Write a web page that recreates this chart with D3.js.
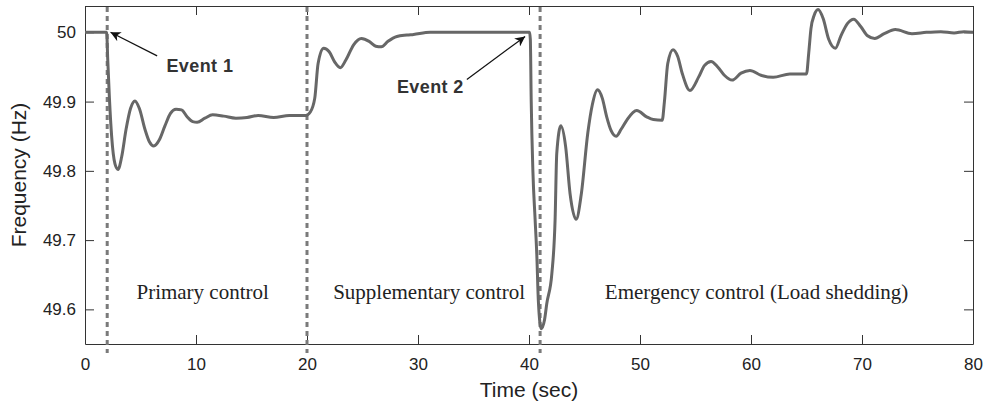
<!DOCTYPE html>
<html>
<head>
<meta charset="utf-8">
<script src="https://cdn.jsdelivr.net/npm/d3@7"></script>
<style>
  body { margin: 0; background: #fff; }
  .axis text { font-family: "Liberation Sans", Arial, sans-serif; font-size: 17px; fill: #222; }
  .axis path, .axis line { stroke: #333; }
  .event-label { font-family: "Liberation Sans", Arial, sans-serif; font-weight: bold; font-size: 18px; fill: #333; letter-spacing: 0.4px; }
  .region-label { font-family: "Liberation Serif", "Times New Roman", serif; font-size: 21px; fill: #222; }
  .axis-label { font-family: "Liberation Sans", Arial, sans-serif; font-size: 21px; fill: #222; }
</style>
</head>
<body>
<div id="chart"></div>
<script>
// frequency trace
const time = [0, 1.95, 2.05, 2.2, 2.4, 2.7, 2.98, 3.3, 3.7, 4.1, 4.5, 4.9, 5.4, 5.8, 6.2, 6.7, 7.2, 7.7, 8.2, 8.7,
  9.2, 9.7, 10.1, 10.8, 11.5, 12.5, 13.6, 14.6, 15.6, 17.0, 18.4, 19.9,
  20.3, 20.7, 21.0, 21.5, 22.0, 22.5, 23.0, 23.5, 24.2, 24.9, 25.6, 26.2, 26.7, 27.3, 28.1, 29.0, 29.6, 31.1, 40.05,
  40.12, 40.2, 40.35, 40.55, 40.7, 40.85, 41.1, 41.4, 41.6, 42.06, 42.35, 42.5, 42.87, 43.3, 43.7, 44.25, 44.7, 45.3,
  45.7, 46.17, 46.6, 47.0, 47.4, 47.85, 48.3, 48.8, 49.7, 50.6, 51.2, 52.0, 52.2, 52.5, 52.97, 53.4, 53.8, 54.5,
  55.3, 55.8, 56.4, 57.0, 57.6, 58.3, 59.1, 59.9, 60.9, 62.0, 63.5, 65.0, 65.2, 65.4, 65.7, 66.04, 66.5, 67.0, 67.6,
  68.1, 68.7, 69.25, 69.9, 70.5, 71.15, 72.0, 73.0, 74.5, 75.8, 77.1, 78.3, 79.2, 80];
const freq = [50.0, 50.0, 49.96, 49.905, 49.85, 49.81, 49.802, 49.82, 49.86, 49.89, 49.901, 49.89, 49.86, 49.842, 49.836, 49.845, 49.865, 49.883, 49.889, 49.888,
  49.878, 49.871, 49.870, 49.876, 49.881, 49.879, 49.876, 49.877, 49.880, 49.877, 49.880, 49.880,
  49.885, 49.905, 49.955, 49.977, 49.972, 49.957, 49.949, 49.960, 49.982, 49.991, 49.987, 49.980, 49.979, 49.987, 49.994, 49.996, 49.997, 50.0, 50.0,
  49.99, 49.90, 49.80, 49.73, 49.68, 49.61, 49.572, 49.585, 49.608, 49.652, 49.729, 49.825, 49.865, 49.835, 49.767, 49.730, 49.765, 49.855,
  49.895, 49.917, 49.905, 49.878, 49.858, 49.850, 49.860, 49.873, 49.887, 49.878, 49.874, 49.873, 49.90, 49.955, 49.975, 49.965, 49.941, 49.916,
  49.936, 49.952, 49.958, 49.950, 49.938, 49.931, 49.941, 49.945, 49.938, 49.935, 49.940, 49.940, 49.97, 50.005, 50.025, 50.033, 50.02, 49.99, 49.977,
  49.995, 50.013, 50.019, 50.008, 49.995, 49.991, 49.998, 50.004, 49.998, 50.0, 50.001, 49.999, 50.001, 50.0];

const eventTimes = [2, 20, 41];
const xTicks = [0, 10, 20, 30, 40, 50, 60, 70, 80];
const yTicks = [49.6, 49.7, 49.8, 49.9, 50];
const regionLabels = ["Primary control", "Supplementary control", "Emergency control (Load shedding)"];
const regionCenters = [10.6, 31.0, 60.5];

const W = 987, H = 406;
const margin = { top: 6, right: 14, bottom: 62, left: 85 };

const svg = d3.select("#chart").append("svg")
    .attr("width", W)
    .attr("height", H);

const x = d3.scaleLinear().domain([0, 80]).range([margin.left, W - margin.right]);
const y = d3.scaleLinear().domain([49.55, 50.038]).range([H - margin.bottom, margin.top]);

const fmt = d => String(+d.toFixed(1));

// axes, ticks pointing inward on all four sides
svg.append("g").attr("class", "axis")
    .attr("transform", `translate(0,${y.range()[0]})`)
    .call(d3.axisBottom(x).tickValues(xTicks).tickSizeInner(-9).tickSizeOuter(0).tickPadding(14).tickFormat(fmt));
svg.append("g").attr("class", "axis")
    .attr("transform", `translate(0,${y.range()[1]})`)
    .call(d3.axisTop(x).tickValues(xTicks).tickSizeInner(-9).tickSizeOuter(0).tickFormat(""));
svg.append("g").attr("class", "axis")
    .attr("transform", `translate(${x.range()[0]},0)`)
    .call(d3.axisLeft(y).tickValues(yTicks).tickSizeInner(-9).tickSizeOuter(0).tickPadding(9).tickFormat(fmt));
svg.append("g").attr("class", "axis")
    .attr("transform", `translate(${x.range()[1]},0)`)
    .call(d3.axisRight(y).tickValues(yTicks).tickSizeInner(-9).tickSizeOuter(0).tickFormat(""));

svg.selectAll(".axis .tick line").attr("stroke", "#333");

// event markers
svg.selectAll(".event-line")
    .data(eventTimes)
    .join("line")
    .attr("class", "event-line")
    .attr("x1", d => x(d)).attr("x2", d => x(d))
    .attr("y1", y.range()[1] + 1)
    .attr("y2", y.range()[0] + 9)
    .attr("stroke", "#7a7a7a")
    .attr("stroke-width", 3)
    .attr("stroke-dasharray", "5,4");

// frequency trace
const line = d3.line()
    .x((d, i) => x(time[i]))
    .y(d => y(d))
    .curve(d3.curveMonotoneX);

svg.append("path")
    .datum(freq)
    .attr("fill", "none")
    .attr("stroke", "#676767")
    .attr("stroke-width", 3)
    .attr("stroke-linejoin", "round")
    .attr("d", line);

// arrows
svg.append("defs").append("marker")
    .attr("id", "arrow")
    .attr("viewBox", "0 0 10 10")
    .attr("refX", 10).attr("refY", 5)
    .attr("markerWidth", 14).attr("markerHeight", 10)
    .attr("markerUnits", "userSpaceOnUse")
    .attr("orient", "auto")
    .append("path")
    .attr("d", "M0,0 L10,5 L0,10 L3,5 Z")
    .attr("fill", "#111");

const events = [
  { label: "Event 1", tx: 7.34, ty: 49.942, ax1: 6.5, ay1: 49.966, ax2: 2.3, ay2: 50.0 },
  { label: "Event 2", tx: 28.1, ty: 49.912, ax1: 34.4, ay1: 49.932, ax2: 39.65, ay2: 49.994 }
];

svg.selectAll(".event-arrow")
    .data(events)
    .join("line")
    .attr("class", "event-arrow")
    .attr("x1", d => x(d.ax1)).attr("y1", d => y(d.ay1))
    .attr("x2", d => x(d.ax2)).attr("y2", d => y(d.ay2))
    .attr("stroke", "#111")
    .attr("stroke-width", 1.2)
    .attr("marker-end", "url(#arrow)");

svg.selectAll(".event-label")
    .data(events)
    .join("text")
    .attr("class", "event-label")
    .attr("x", d => x(d.tx))
    .attr("y", d => y(d.ty))
    .text(d => d.label);

svg.selectAll(".region-label")
    .data(regionLabels)
    .join("text")
    .attr("class", "region-label")
    .attr("x", (d, i) => x(regionCenters[i]))
    .attr("y", y(49.6) - 10)
    .attr("text-anchor", "middle")
    .text(d => d);

// axis titles
svg.append("text")
    .attr("class", "axis-label")
    .attr("x", (x.range()[0] + x.range()[1]) / 2)
    .attr("y", 397)
    .attr("text-anchor", "middle")
    .text("Time (sec)");

svg.append("text")
    .attr("class", "axis-label")
    .attr("transform", `translate(26,${(y.range()[0] + y.range()[1]) / 2}) rotate(-90)`)
    .attr("text-anchor", "middle")
    .text("Frequency (Hz)");
</script>
</body>
</html>
